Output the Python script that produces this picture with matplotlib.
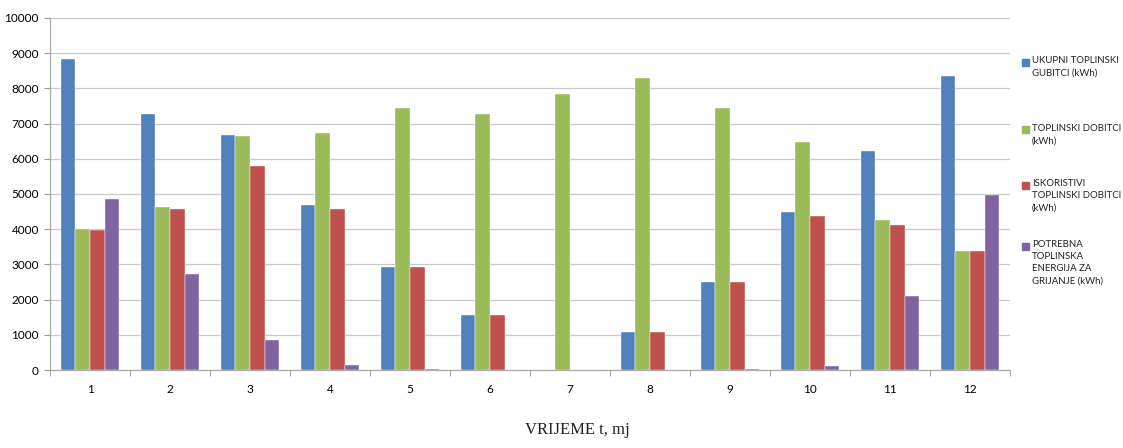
import numpy as np
import matplotlib.pyplot as plt
from matplotlib.patches import Rectangle

# data
months = ['1', '2', '3', '4', '5', '6', '7', '8', '9', '10', '11', '12']
gubitci = [8840, 7280, 6680, 4690, 2930, 1560, 0, 1080, 2500, 4490, 6220, 8350]
dobitci = [4010, 4630, 6650, 6730, 7440, 7270, 7840, 8300, 7440, 6480, 4260, 3380]
iskoristivi = [3980, 4570, 5800, 4570, 2930, 1560, 0, 1080, 2500, 4370, 4120, 3380]
potrebna = [4860, 2730, 860, 130, 20, 0, 0, 0, 20, 120, 2100, 4980]

labels = ['UKUPNI TOPLINSKI\nGUBITCI (kWh)',
          'TOPLINSKI DOBITCI\n(kWh)',
          'ISKORISTIVI\nTOPLINSKI DOBITCI\n(kWh)',
          'POTREBNA\nTOPLINSKA\nENERGIJA ZA\nGRIJANJE (kWh)']
colors = ['#4F81BD', '#9BBB59', '#C0504D', '#8064A2']
series = [gubitci, dobitci, iskoristivi, potrebna]

plt.rcParams['font.family'] = ['Lato', 'DejaVu Sans']

fig = plt.figure(figsize=(11.23, 4.48), dpi=100)
ax = fig.add_axes([50 / 1123, 78 / 448, 960 / 1123, 352 / 448])

x = np.arange(len(months))
w = 0.183
for i, (vals, c) in enumerate(zip(series, colors)):
    ax.bar(x + (i - 1.5) * w, vals, width=w, color=c, edgecolor='white',
           linewidth=0.3, zorder=3)

ax.set_xlim(-0.5, len(months) - 0.5)
ax.set_ylim(0, 10000)
ax.set_yticks(np.arange(0, 10001, 1000))
ax.yaxis.grid(True, color='#C8C8C8', linewidth=0.9, zorder=0)

ax.set_xticks(x)
ax.set_xticklabels(months)
ax.set_xticks(np.arange(-0.5, len(months), 1), minor=True)
ax.tick_params(axis='x', which='major', length=0, pad=10, labelsize=8.5)
ax.tick_params(axis='x', which='minor', length=4, color='#999999', direction='out')
ax.tick_params(axis='y', length=4, color='#999999', labelsize=8.5, pad=4)

for s in ['top', 'right']:
    ax.spines[s].set_visible(False)
for s in ['left', 'bottom']:
    ax.spines[s].set_color('#AAAAAA')
    ax.spines[s].set_linewidth(0.9)

# legend, drawn manually in Excel style
legend_y = [62, 130, 185, 246]
for lab, c, yy in zip(labels, colors, legend_y):
    yf = 1 - yy / 448
    fig.patches.append(Rectangle((1022 / 1123, yf - 3.5 / 448), 7 / 1123, 7 / 448,
                                 transform=fig.transFigure, color=c))
    fig.text(1032 / 1123, yf + 6 / 448, lab, fontsize=6.9, va='top', ha='left',
             linespacing=1.45, color='#222222')

fig.text(577 / 1123, 10 / 448, 'VRIJEME t, mj', family='Liberation Serif',
         fontsize=12, ha='center', va='bottom', color='#222222')

plt.savefig('out.png', dpi=100)
plt.close()
